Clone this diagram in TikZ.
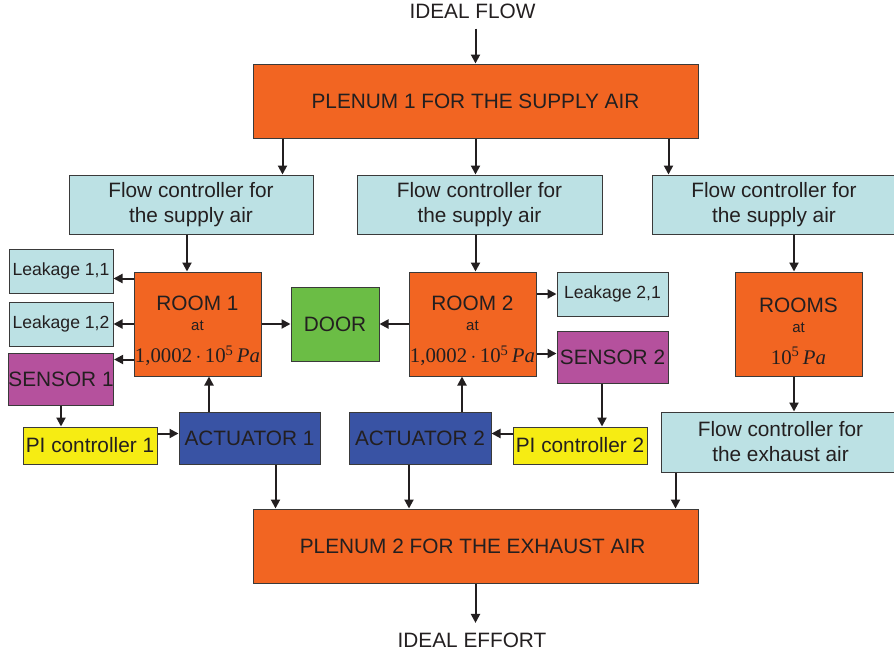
\documentclass[tikz,border=0pt]{standalone}
\usepackage{fontspec}
\setmainfont{Liberation Sans}
\newfontfamily\tnr{Liberation Serif}
\definecolor{PlenumOrange}{HTML}{F26522}
\definecolor{CtrlBlue}{HTML}{BCE1E4}
\definecolor{DoorGreen}{HTML}{6BBD45}
\definecolor{SensorPurple}{HTML}{B5519D}
\definecolor{PiYellow}{HTML}{F6EC13}
\definecolor{ActBlue}{HTML}{3953A4}
\definecolor{BoxBorder}{HTML}{3A3A3A}
\definecolor{Ink}{HTML}{231F20}
\usetikzlibrary{arrows.meta, calc}

\begin{document}
\begin{tikzpicture}[x=1pt, y=-1pt,
  blk/.style={rectangle, draw=BoxBorder, line width=1pt, align=center,
              inner sep=0pt, text=Ink, font=\fontsize{20.8}{25}\selectfont},
  roomtxt/.style={align=center, inner sep=0pt, text=Ink,
                  font=\fontsize{20.8}{25}\selectfont},
  ends/.style={inner sep=10pt, text=Ink, font=\fontsize{20.8}{25}\selectfont},
  arr/.style={draw=Ink, line width=2pt, -{Triangle[length=9pt,width=9pt]}},
]
\useasboundingbox (0,0) rectangle (894,657);
% pixel layout: x to the right, y downwards
\newcommand{\leak}[1]{{\fontsize{17.6}{21}\selectfont #1}}
\newcommand{\atsmall}{{\fontsize{15}{18}\selectfont at}}
\foreach \nm/\x/\y/\w/\h/\clr/\txt in {
  plenumA/475.5/101/445/74/PlenumOrange/PLENUM 1 FOR THE SUPPLY AIR,
  fcA/191/204.5/244/59/CtrlBlue/{Flow controller for\\the supply air},
  fcB/479.5/204.5/245/59/CtrlBlue/{Flow controller for\\the supply air},
  fcC/774/204.5/244/59/CtrlBlue/{Flow controller for\\the supply air},
  leakA/61/271/104/44/CtrlBlue/{\leak{Leakage 1,1}},
  leakB/61/324/104/44/CtrlBlue/{\leak{Leakage 1,2}},
  sensorA/61/379/104/52/SensorPurple/SENSOR 1,
  piA/90/445.5/134/37/PiYellow/PI controller 1,
  actA/249.5/438/141/52/ActBlue/ACTUATOR 1,
  door/335/324/88/74/DoorGreen/DOOR,
  leakC/612.5/294/111/44/CtrlBlue/{\leak{Leakage 2,1}},
  sensorB/612.5/357/111/52/SensorPurple/SENSOR 2,
  piB/580/445.5/134/37/PiYellow/PI controller 2,
  actB/420/438/142/52/ActBlue/ACTUATOR 2,
  fcD/780.5/442/239/60/CtrlBlue/{Flow controller for\\the exhaust air},
  plenumB/475.5/546/445/74/PlenumOrange/PLENUM 2 FOR THE EXHAUST AIR
} {
  \node[blk, fill=\clr, minimum width=\w, minimum height=\h] (\nm) at (\x,\y) {\txt};
}

% the three rooms, text set a little below the box centre
\foreach \nm/\x in {roomA/197.5, roomB/472.5, roomC/798.5}
  \node[blk, fill=PlenumOrange, minimum width=127, minimum height=104] (\nm) at (\x,324) {};
\node[roomtxt] (roomAtxt) at ($(roomA.center)+(0,7)$)
  {ROOM 1\\[-5pt]\atsmall\\[7pt]{\tnr 1,0002$\,\cdot\,$10\textsuperscript{5}\,\textit{Pa}}};
\node[roomtxt] (roomBtxt) at ($(roomB.center)+(0,7)$)
  {ROOM 2\\[-5pt]\atsmall\\[7pt]{\tnr 1,0002$\,\cdot\,$10\textsuperscript{5}\,\textit{Pa}}};
\node[roomtxt] (roomCtxt) at ($(roomC.center)+(0,7)$)
  {ROOMS\\[-5pt]\atsmall\\[7pt]{\tnr 10\textsuperscript{5}\,\textit{Pa}}};

\node[ends] (flowIn) at (472.5,11) {IDEAL FLOW};
\node[ends] (flowOut) at (472,640.5) {IDEAL EFFORT};

% supply side
\draw[arr] (flowIn.south -| plenumA.north) -- (plenumA.north);
\draw[arr] ([xshift=30pt]plenumA.south west) -- ([xshift=30pt]plenumA.south west |- fcA.north);
\draw[arr] (plenumA.south) -- (plenumA.south |- fcB.north);
\draw[arr] ([xshift=-30pt]plenumA.south east) -- ([xshift=-30pt]plenumA.south east |- fcC.north);
\draw[arr] ([xshift=-4pt]fcA.south) -- ([xshift=-4pt]fcA.south |- roomA.north);
\draw[arr] (fcB.south -| plenumA.south) -- (roomB.north -| plenumA.south);
\draw[arr] ([xshift=-4.5pt]roomC.north |- fcC.south) -- ([xshift=-4.5pt]roomC.north);

% room 1
\draw[arr] ([yshift=-7pt]roomA.north west) -- ([yshift=-7pt]roomA.north west -| leakA.east);
\draw[arr] (roomA.west |- leakB.east) -- (leakB.east);
\draw[arr] ([yshift=17pt]roomA.south west) -- ([yshift=17pt]roomA.south west -| sensorA.east);
\draw[arr] (sensorA.south) -- (sensorA.south |- piA.north);
\draw[arr] ([yshift=-7pt]piA.north east) -- ([yshift=-7pt]piA.north east -| actA.west);
\draw[arr] ([xshift=11.5pt]roomA.south |- actA.north) -- ([xshift=11.5pt]roomA.south);
\draw[arr] (roomA.east |- door.west) -- (door.west);

% room 2
\draw[arr] (roomB.west |- door.east) -- (door.east);
\draw[arr] (roomB.east |- leakC.west) -- (leakC.west);
\draw[arr] ([yshift=23pt]roomB.south east) -- ([yshift=23pt]roomB.south east -| sensorB.west);
\draw[arr] ([xshift=-10.5pt]sensorB.south) -- ([xshift=-10.5pt]sensorB.south |- piB.north);
\draw[arr] ([yshift=-7pt]piB.north west) -- ([yshift=-7pt]piB.north west -| actB.east);
\draw[arr] ([xshift=-10.5pt]roomB.south |- actB.north) -- ([xshift=-10.5pt]roomB.south);

% exhaust side
\draw[arr] ([xshift=-4.5pt]roomC.south) -- ([xshift=-4.5pt]roomC.south |- fcD.north);
\draw[arr] ([xshift=23pt]plenumB.north west |- actA.south) -- ([xshift=23pt]plenumB.north west);
\draw[arr] ([xshift=-11pt]actB.south) -- ([xshift=-11pt]actB.south |- plenumB.north);
\draw[arr] ([xshift=15pt]fcD.south west) -- ([xshift=15pt]fcD.south west |- plenumB.north);
\draw[arr] (plenumB.south) -- (plenumB.south |- flowOut.north);
\end{tikzpicture}
\end{document}
